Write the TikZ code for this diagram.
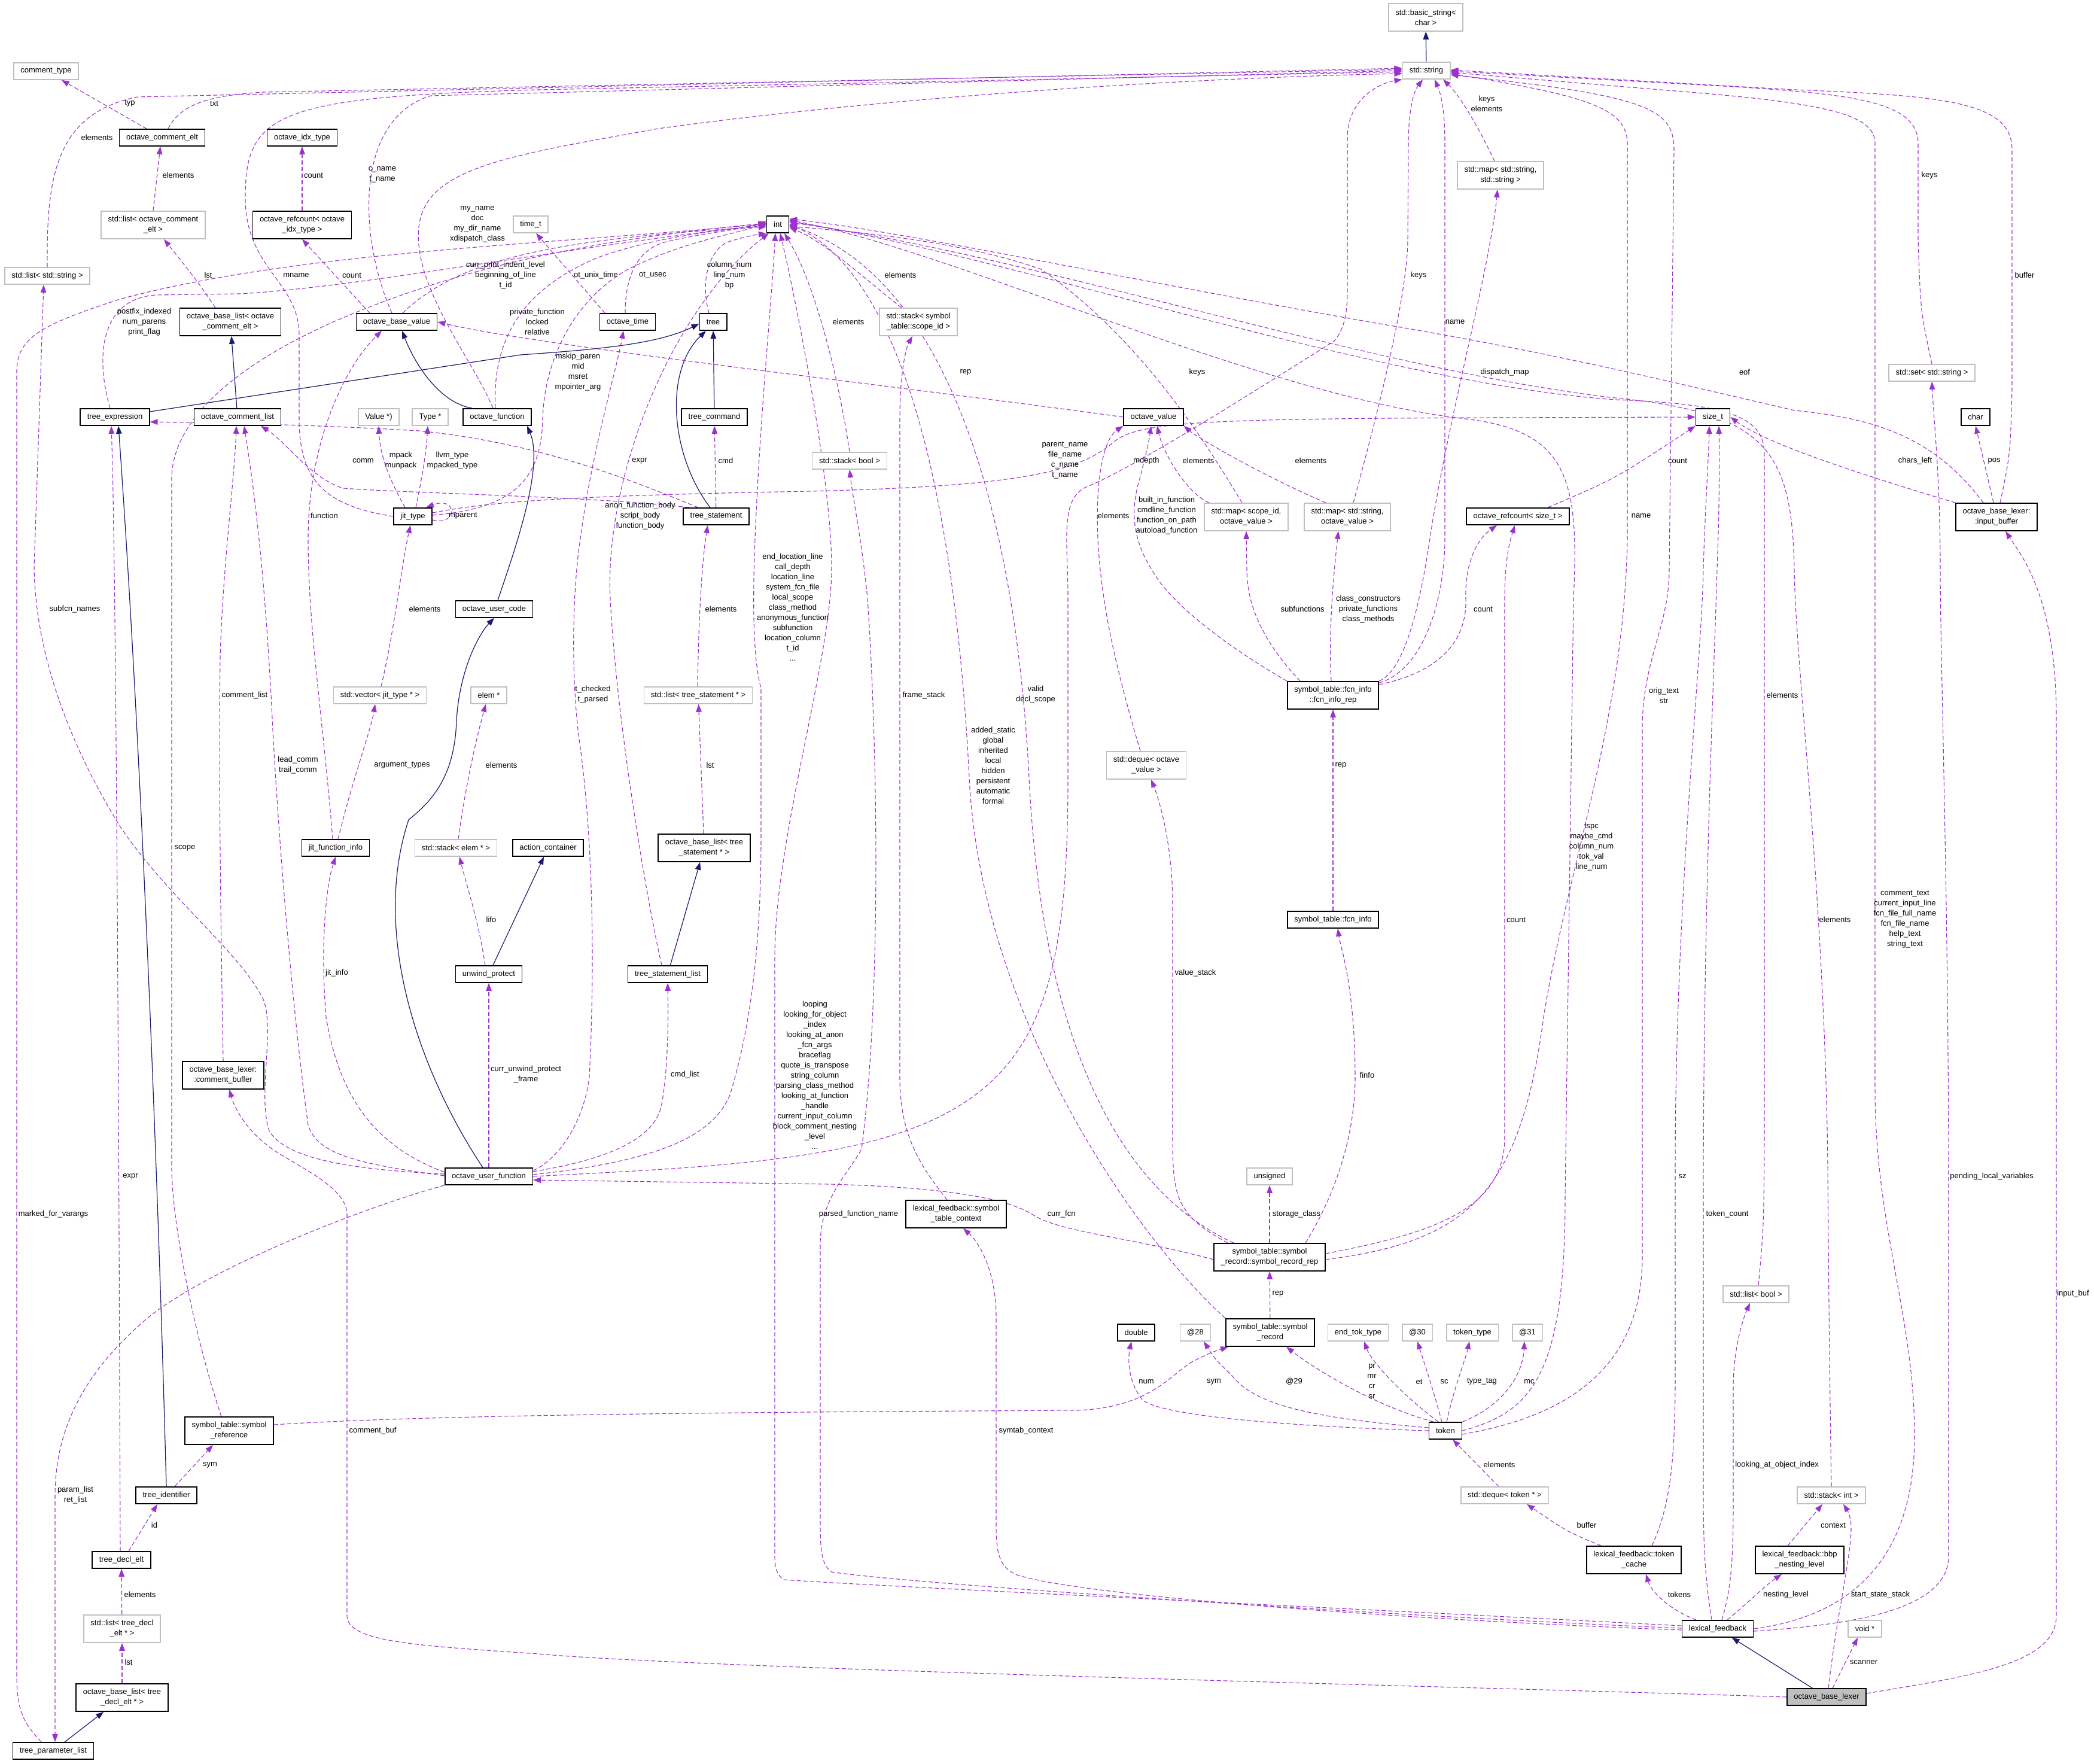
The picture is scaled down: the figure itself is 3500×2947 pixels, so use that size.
\documentclass[tikz,border=0pt]{standalone}
\usepackage{fontspec}
\setmainfont{Liberation Sans}
\usetikzlibrary{arrows.meta}
\definecolor{usecol}{HTML}{9A32CD}
\definecolor{inhcol}{HTML}{191970}
\definecolor{extcol}{HTML}{BFBFBF}
\pgfdeclarelayer{bg}
\pgfsetlayers{bg,main}

\begin{document}
\begin{tikzpicture}[
      x=1pt, y=-1pt,
      cls/.style={draw=black, line width=1.6pt, fill=white, align=center, font=\fontsize{13}{17}\selectfont, inner xsep=11.5pt, inner ysep=4pt, minimum height=28pt},
      ext/.style={cls, draw=extcol},
      root/.style={cls, fill=extcol},
      two/.style={minimum height=46pt},
      lbl/.style={align=center, font=\fontsize{13}{17}\selectfont, inner sep=0pt},
      memb/.style={draw=usecol, line width=1.1pt, dash pattern=on 7pt off 4pt, -{Triangle[length=13pt,width=9.5pt]}},
      inher/.style={draw=inhcol, line width=1.2pt, -{Triangle[length=13pt,width=9.5pt]}}
      ]
      \useasboundingbox (0,0) rectangle (3500,2947);

      % Nodes
      \node (ctype) [ext] at (77,119) {comment\_type};
      \node (bstr) [ext, two] at (2383,29) {std::basic\_string<\\char >};
      \node (str) [ext] at (2384,118) {std::string};
      \node (mapss) [ext, two] at (2508,293) {std::map< std::string,\\std::string >};
      \node (ocelt) [cls] at (271,230) {octave\_comment\_elt};
      \node (oidx) [cls] at (505,230) {octave\_idx\_type};
      \node (lce) [ext, two] at (256,376) {std::list< octave\_comment\\\_elt >};
      \node (orcidx) [cls, two] at (505,376) {octave\_refcount< octave\\\_idx\_type >};
      \node (timet) [ext] at (887,375) {time\_t};
      \node (intn) [cls] at (1300,375) {int};
      \node (lstr) [ext] at (79,461) {std::list< std::string >};
      \node (oblce) [cls, two] at (385,538) {octave\_base\_list< octave\\\_comment\_elt >};
      \node (obv) [cls] at (663,538) {octave\_base\_value};
      \node (otime) [cls] at (1049,538) {octave\_time};
      \node (tree) [cls] at (1192,538) {tree};
      \node (stksid) [ext, two] at (1535,538) {std::stack< symbol\\\_table::scope\_id >};
      \node (setstr) [ext] at (3229,623) {std::set< std::string >};
      \node (texpr) [cls] at (192,697) {tree\_expression};
      \node (ocl) [cls] at (397,697) {octave\_comment\_list};
      \node (valp) [ext] at (633,697) {Value *)};
      \node (typep) [ext] at (719,697) {Type *};
      \node (ofcn) [cls] at (831,697) {octave\_function};
      \node (tcmd) [cls] at (1194,697) {tree\_command};
      \node (oval) [cls] at (1928,697) {octave\_value};
      \node (sizet) [cls] at (2863,697) {size\_t};
      \node (chr) [cls] at (3302,697) {char};
      \node (stkb) [ext] at (1420,770) {std::stack< bool >};
      \node (jit) [cls] at (690,863) {jit\_type};
      \node (tstmt) [cls] at (1197,863) {tree\_statement};
      \node (mapsid) [ext, two] at (2083,864) {std::map< scope\_id,\\octave\_value >};
      \node (mapsov) [ext, two] at (2252,864) {std::map< std::string,\\octave\_value >};
      \node (orcsz) [cls] at (2537,863) {octave\_refcount< size\_t >};
      \node (inbuf) [cls, two] at (3337,864) {octave\_base\_lexer:\\:input\_buffer};
      \node (ouc) [cls] at (826,1018) {octave\_user\_code};
      \node (vecjt) [ext] at (635,1162) {std::vector< jit\_type * >};
      \node (elem) [ext] at (817,1162) {elem *};
      \node (lts) [ext] at (1167,1162) {std::list< tree\_statement * >};
      \node (fir) [cls, two] at (2228,1162) {symbol\_table::fcn\_info\\::fcn\_info\_rep};
      \node (dqov) [ext, two] at (1916,1279) {std::deque< octave\\\_value >};
      \node (jfi) [cls] at (561,1417) {jit\_function\_info};
      \node (stke) [ext] at (762,1417) {std::stack< elem * >};
      \node (actc) [cls] at (916,1417) {action\_container};
      \node (oblts) [cls, two] at (1177,1417) {octave\_base\_list< tree\\\_statement * >};
      \node (fi) [cls] at (2228,1537) {symbol\_table::fcn\_info};
      \node (unw) [cls] at (817,1628) {unwind\_protect};
      \node (tsl) [cls] at (1116,1628) {tree\_statement\_list};
      \node (cbuf) [cls, two] at (373,1797) {octave\_base\_lexer:\\:comment\_buffer};
      \node (ouf) [cls] at (817,1966) {octave\_user\_function};
      \node (unsig) [ext] at (2122,1966) {unsigned};
      \node (stc) [cls, two] at (1598,2029) {lexical\_feedback::symbol\\\_table\_context};
      \node (srr) [cls, two] at (2122,2101) {symbol\_table::symbol\\\_record::symbol\_record\_rep};
      \node (lbool) [ext] at (2935,2163) {std::list< bool >};
      \node (dbl) [cls] at (1899,2227) {double};
      \node (at28) [ext] at (1998,2227) {@28};
      \node (sr) [cls, two] at (2123,2227) {symbol\_table::symbol\\\_record};
      \node (endtok) [ext] at (2270,2227) {end\_tok\_type};
      \node (at30) [ext] at (2369,2227) {@30};
      \node (toktype) [ext] at (2461,2227) {token\_type};
      \node (at31) [ext] at (2553,2227) {@31};
      \node (symref) [cls, two] at (383,2391) {symbol\_table::symbol\\\_reference};
      \node (tok) [cls] at (2416,2391) {token};
      \node (tid) [cls] at (278,2499) {tree\_identifier};
      \node (dqtok) [ext] at (2515,2499) {std::deque< token * >};
      \node (stki) [ext] at (3061,2499) {std::stack< int >};
      \node (tdecl) [cls] at (203,2607) {tree\_decl\_elt};
      \node (tcache) [cls, two] at (2731,2607) {lexical\_feedback::token\\\_cache};
      \node (bbp) [cls, two] at (3008,2607) {lexical\_feedback::bbp\\\_nesting\_level};
      \node (ltd) [ext, two] at (204,2722) {std::list< tree\_decl\\\_elt * >};
      \node (lf) [cls] at (2871,2722) {lexical\_feedback};
      \node (voidp) [ext] at (3117,2722) {void *};
      \node (obltd) [cls, two] at (204,2837) {octave\_base\_list< tree\\\_decl\_elt * >};
      \node (obl) [root] at (3053,2836) {octave\_base\_lexer};
      \node (tpl) [cls] at (89,2926) {tree\_parameter\_list};

      % Labels
      \node (l_typ) [lbl] at (217,173) {typ};
      \node (l_txt) [lbl] at (358,173) {txt};
      \node (l_el1) [lbl] at (162,230) {elements};
      \node (l_el2) [lbl] at (298,293) {elements};
      \node (l_cnt1) [lbl] at (524,293) {count};
      \node (l_cname) [lbl] at (639,292) {c\_name\\t\_name};
      \node (l_myname) [lbl] at (798,375) {my\_name\\doc\\my\_dir\_name\\xdispatch\_class};
      \node (l_curprint) [lbl] at (845,460) {curr\_print\_indent\_level\\beginning\_of\_line\\t\_id};
      \node (l_lst1) [lbl] at (348,460) {lst};
      \node (l_mname) [lbl] at (495,460) {mname};
      \node (l_cnt2) [lbl] at (588,460) {count};
      \node (l_postfix) [lbl] at (241,538) {postfix\_indexed\\num\_parens\\print\_flag};
      \node (l_privfn) [lbl] at (898,538) {private\_function\\locked\\relative};
      \node (l_comm) [lbl] at (607,770) {comm};
      \node (l_mpack) [lbl] at (670,770) {mpack\\munpack};
      \node (l_llvm) [lbl] at (756,770) {llvm\_type\\mpacked\_type};
      \node (l_mparent) [lbl] at (774,862) {mparent};
      \node (l_function) [lbl] at (542,862) {function};
      \node (l_otunix) [lbl] at (996,460) {ot\_unix\_time};
      \node (l_otusec) [lbl] at (1091,460) {ot\_usec};
      \node (l_colnum) [lbl] at (1219,460) {column\_num\\line\_num\\bp};
      \node (l_el3) [lbl] at (1505,460) {elements};
      \node (l_el4) [lbl] at (1418,538) {elements};
      \node (l_mskip) [lbl] at (966,622) {mskip\_paren\\mid\\msret\\mpointer\_arg};
      \node (l_rep1) [lbl] at (1614,622) {rep};
      \node (l_expr1) [lbl] at (1069,770) {expr};
      \node (l_cmd) [lbl] at (1213,770) {cmd};
      \node (l_anon) [lbl] at (1070,862) {anon\_function\_body\\script\_body\\function\_body};
      \node (l_endloc) [lbl] at (1325,1015) {end\_location\_line\\call\_depth\\location\_line\\system\_fcn\_file\\local\_scope\\class\_method\\anonymous\_function\\subfunction\\location\_column\\t\_id\\...};
      \node (l_keysel) [lbl] at (2485,173) {keys\\elements};
      \node (l_keys1) [lbl] at (2371,460) {keys};
      \node (l_name1) [lbl] at (2432,538) {name};
      \node (l_keys2) [lbl] at (2001,622) {keys};
      \node (l_dispatch) [lbl] at (2515,622) {dispatch\_map};
      \node (l_parent) [lbl] at (1780,769) {parent\_name\\file\_name\\c\_name\\t\_name};
      \node (l_mdepth) [lbl] at (1916,770) {mdepth};
      \node (l_el5) [lbl] at (2003,770) {elements};
      \node (l_el6) [lbl] at (2191,770) {elements};
      \node (l_el7) [lbl] at (1861,862) {elements};
      \node (l_builtin) [lbl] at (1950,862) {built\_in\_function\\cmdline\_function\\function\_on\_path\\autoload\_function};
      \node (l_keys3) [lbl] at (3225,293) {keys};
      \node (l_buffer1) [lbl] at (3384,460) {buffer};
      \node (l_eof) [lbl] at (2916,622) {eof};
      \node (l_cnt3) [lbl] at (2804,770) {count};
      \node (l_charsleft) [lbl] at (3201,770) {chars\_left};
      \node (l_pos) [lbl] at (3333,770) {pos};
      \node (l_name2) [lbl] at (2743,862) {name};
      \node (l_subfcn) [lbl] at (125,1018) {subfcn\_names};
      \node (l_el8) [lbl] at (710,1018) {elements};
      \node (l_commentlist) [lbl] at (409,1162) {comment\_list};
      \node (l_leadcomm) [lbl] at (498,1279) {lead\_comm\\trail\_comm};
      \node (l_argtypes) [lbl] at (672,1279) {argument\_types};
      \node (l_el9) [lbl] at (838,1279) {elements};
      \node (l_scope) [lbl] at (309,1417) {scope};
      \node (l_lifo) [lbl] at (821,1537) {lifo};
      \node (l_jitinfo) [lbl] at (563,1626) {jit\_info};
      \node (l_currunw) [lbl] at (879,1796) {curr\_unwind\_protect\\\_frame};
      \node (l_expr2) [lbl] at (218,1966) {expr};
      \node (l_el10) [lbl] at (1205,1018) {elements};
      \node (l_tchecked) [lbl] at (991,1161) {t\_checked\\t\_parsed};
      \node (l_framestack) [lbl] at (1544,1162) {frame\_stack};
      \node (l_valid) [lbl] at (1731,1161) {valid\\decl\_scope};
      \node (l_added) [lbl] at (1660,1279) {added\_static\\global\\inherited\\local\\hidden\\persistent\\automatic\\formal};
      \node (l_lst2) [lbl] at (1187,1279) {lst};
      \node (l_cmdlist) [lbl] at (1145,1796) {cmd\_list};
      \node (l_looping) [lbl] at (1362,1797) {looping\\looking\_for\_object\\\_index\\looking\_at\_anon\\\_fcn\_args\\braceflag\\quote\_is\_transpose\\string\_column\\parsing\_class\_method\\looking\_at\_function\\\_handle\\current\_input\_column\\block\_comment\_nesting\\\_level\\...};
      \node (l_subfns) [lbl] at (2177,1018) {subfunctions};
      \node (l_classctor) [lbl] at (2287,1018) {class\_constructors\\private\_functions\\class\_methods};
      \node (l_cnt4) [lbl] at (2479,1018) {count};
      \node (l_rep2) [lbl] at (2241,1279) {rep};
      \node (l_cnt5) [lbl] at (2534,1537) {count};
      \node (l_valuestack) [lbl] at (1998,1626) {value\_stack};
      \node (l_finfo) [lbl] at (2285,1797) {finfo};
      \node (l_origtext) [lbl] at (2781,1162) {orig\_text\\str};
      \node (l_el11) [lbl] at (2979,1162) {elements};
      \node (l_tspc) [lbl] at (2660,1416) {tspc\\maybe\_cmd\\column\_num\\tok\_val\\line\_num};
      \node (l_el12) [lbl] at (3067,1537) {elements};
      \node (l_commenttext) [lbl] at (3184,1536) {comment\_text\\current\_input\_line\\fcn\_file\_full\_name\\fcn\_file\_name\\help\_text\\string\_text};
      \node (l_sz) [lbl] at (2812,1966) {sz};
      \node (l_pending) [lbl] at (3329,1966) {pending\_local\_variables};
      \node (l_marked) [lbl] at (89,2029) {marked\_for\_varargs};
      \node (l_commentbuf) [lbl] at (623,2391) {comment\_buf};
      \node (l_sym1) [lbl] at (351,2448) {sym};
      \node (l_paramlist) [lbl] at (126,2499) {param\_list\\ret\_list};
      \node (l_id) [lbl] at (258,2549) {id};
      \node (l_el13) [lbl] at (234,2665) {elements};
      \node (l_lst3) [lbl] at (215,2778) {lst};
      \node (l_parsedfn) [lbl] at (1435,2029) {parsed\_function\_name};
      \node (l_currfcn) [lbl] at (1774,2029) {curr\_fcn};
      \node (l_symtab) [lbl] at (1715,2391) {symtab\_context};
      \node (l_storage) [lbl] at (2167,2029) {storage\_class};
      \node (l_rep3) [lbl] at (2136,2162) {rep};
      \node (l_num) [lbl] at (1916,2309) {num};
      \node (l_sym2) [lbl] at (2029,2309) {sym};
      \node (l_at29) [lbl] at (2163,2309) {@29};
      \node (l_prmr) [lbl] at (2293,2309) {pr\\mr\\cr\\sr};
      \node (l_et) [lbl] at (2372,2309) {et};
      \node (l_sc) [lbl] at (2414,2309) {sc};
      \node (l_typetag) [lbl] at (2477,2309) {type\_tag};
      \node (l_mc) [lbl] at (2556,2309) {mc};
      \node (l_el14) [lbl] at (2506,2448) {elements};
      \node (l_tokencount) [lbl] at (2887,2029) {token\_count};
      \node (l_inputbuf) [lbl] at (3465,2162) {input\_buf};
      \node (l_lookobj) [lbl] at (2970,2448) {looking\_at\_object\_index};
      \node (l_buffer2) [lbl] at (2652,2549) {buffer};
      \node (l_context) [lbl] at (3064,2549) {context};
      \node (l_tokens) [lbl] at (2807,2665) {tokens};
      \node (l_nesting) [lbl] at (2985,2665) {nesting\_level};
      \node (l_startstate) [lbl] at (3143,2665) {start\_state\_stack};
      \node (l_scanner) [lbl] at (3115,2778) {scanner};

      \begin{pgfonlayer}{bg}
      \fill[white] (0,0) rectangle (3500,2947);

      % Inheritance
      \draw[inher] (str) -- (bstr);
      \draw[inher] (ocl) -- (oblce);
      \draw[inher] ([xshift=-42pt]ofcn.north) .. controls (730,672) and (690,600) .. ([xshift=9pt]obv.south);
      \draw[inher] ([yshift=9pt]texpr.east) -- (870,593) .. controls (1000,584) and (1100,575) .. ([yshift=-3pt]tree.west);
      \draw[inher] (tcmd) -- (tree);
      \draw[inher] ([xshift=-10pt]tstmt.north) .. controls (1120,760) and (1110,620) .. ([xshift=-12pt]tree.south);
      \draw[inher] ([xshift=6pt]ouc.north) .. controls (860,920) and (910,780) .. ([xshift=50pt]ofcn.south);
      \draw[inher] ([xshift=-10pt]ouf.north) .. controls (700,1790) and (620,1560) .. (683,1370) .. controls (720,1340) and (760,1300) .. (763,1204) .. controls (768,1120) and (800,1060) .. (ouc.south);
      \draw[inher] (unw) -- (actc);
      \draw[inher] (tsl) -- (oblts);
      \draw[inher] (tid.north) .. controls (268,2100) and (240,1300) .. ([xshift=6pt]texpr.south);
      \draw[inher] (tpl) -- (obltd);
      \draw[inher] (obl) -- (lf);

      % Members, upper left
      \draw[memb] (ocelt) -- (ctype);
      \draw[memb] ([xshift=10pt]ocelt.north) .. controls (300,178) and (340,160) .. (440,154) -- ([yshift=2pt]str.west);
      \draw[memb] (lstr.north) .. controls (78,300) and (90,190) .. (230,162) -- ([yshift=4pt]str.west);
      \draw[memb] ([xshift=-8pt]obv.north) .. controls (600,400) and (590,200) .. (720,160) -- (str.west);
      \draw[memb] (jit.west) .. controls (540,845) and (500,800) .. (500,700) -- (500,560) .. controls (500,470) and (410,450) .. (410,330) .. controls (410,190) and (460,162) .. (900,150) -- ([yshift=-2pt]str.west);
      \draw[memb] ([xshift=-7pt]ofcn.north) .. controls (790,600) and (690,480) .. (700,380) .. controls (710,280) and (850,260) .. (1100,215) .. controls (1500,160) and (2000,130) .. ([yshift=-5pt]str.west);
      \draw[memb] (lce.north) -- ([xshift=-3pt]ocelt.south);
      \draw[memb] (orcidx) -- (oidx);
      \draw[memb] ([xshift=-25pt]oblce.north) .. controls (330,470) .. ([xshift=18pt]lce.south);
      \draw[memb] ([xshift=-45pt]obv.north) .. controls (560,460) .. (orcidx.south);

      % Members into int
      \draw[memb] ([xshift=10pt]obv.north) .. controls (760,440) and (900,400) .. ([yshift=-4pt]intn.west);
      \draw[memb] ([xshift=-3pt]ofcn.north) .. controls (822,560) and (880,480) .. (1000,430) .. controls (1100,395) and (1200,385) .. ([yshift=-2pt]intn.west);
      \draw[memb] ([xshift=-8pt]texpr.north) .. controls (160,600) and (165,500) .. (260,493) -- (400,491) .. controls (600,480) and (900,420) .. (intn.west);
      \draw[memb] ([xshift=-20pt]tpl.north) .. controls (40,2880) and (28,2860) .. (28,2800) -- (28,620) .. controls (28,560) and (80,540) .. (200,500) .. controls (500,420) and (900,410) .. ([yshift=1pt]intn.west);
      \draw[memb] ([xshift=-13pt]symref.north) .. controls (330,2250) and (287,2050) .. (287,1950) -- (287,800) .. controls (287,700) and (400,600) .. (600,520) .. controls (800,440) and (1000,400) .. ([yshift=2pt]intn.west);
      \draw[memb] ([yshift=2pt]jit.east) .. controls (860,850) and (905,800) .. (907,700) .. controls (910,600) and (960,500) .. (1050,450) .. controls (1150,400) and (1230,392) .. ([yshift=3pt]intn.west);
      \draw[memb] ([xshift=-38pt]otime.north) -- ([xshift=9pt]timet.south);
      \draw[memb] ([xshift=-4pt]otime.north) .. controls (1045,470) and (1060,420) .. (1110,405) .. controls (1180,388) and (1240,384) .. ([yshift=5pt]intn.west);
      \draw[memb] ([xshift=-7pt]tree.north) .. controls (1170,470) and (1185,420) .. (1215,405) .. controls (1245,395) and (1265,392) .. (intn.south west);
      \draw[memb] ([xshift=-10pt]tsl.north) .. controls (1080,1500) and (1030,1200) .. (1020,1000) .. controls (1010,800) and (1120,520) .. ([xshift=4pt]intn.south west);
      \draw[memb] ([yshift=3pt]ouf.east) .. controls (1100,1940) and (1190,1900) .. (1220,1830) .. controls (1260,1700) and (1272,1550) .. (1272,1400) -- (1272,1150) .. controls (1258,1100) and (1258,1000) .. (1262,900) .. controls (1270,700) and (1290,500) .. ([xshift=-4pt]intn.south);
      \draw[memb] ([yshift=5pt]lf.west) .. controls (2300,2690) and (1450,2650) .. (1310,2640) .. controls (1298,2632) and (1295,2620) .. (1295,2600) -- (1295,1600) .. controls (1295,1400) and (1390,1100) .. (1390,950) .. controls (1390,800) and (1330,500) .. ([xshift=4pt]intn.south);
      \draw[memb] ([xshift=-28pt]stksid.north) .. controls (1450,470) and (1380,405) .. ([yshift=-5pt]intn.east);
      \draw[memb] (stkb.north) .. controls (1400,620) and (1360,470) .. ([xshift=11pt]intn.south);
      \draw[memb] ([xshift=-7pt]mapsid.north) .. controls (2010,730) and (1900,560) .. (1740,450) .. controls (1600,400) and (1400,385) .. ([yshift=-3pt]intn.east);
      \draw[memb] ([xshift=-60pt]srr.north) .. controls (1850,1980) and (1740,1700) .. (1720,1300) .. controls (1700,900) and (1600,470) .. ([yshift=-1pt]intn.east);
      \draw[memb] (sr.north west) .. controls (1900,2070) and (1640,1700) .. (1620,1300) .. controls (1605,1000) and (1550,480) .. ([yshift=1pt]intn.east);
      \draw[memb] (stki.north) .. controls (3058,2300) and (3056,2100) .. (3055,1950) .. controls (3050,1500) and (3000,1100) .. (2999,950) .. controls (2995,750) and (2950,690) .. (2700,665) .. controls (2300,620) and (1700,420) .. ([yshift=3pt]intn.east);
      \draw[memb] ([xshift=4pt]lbool.north) .. controls (2948,2050) .. (2949,1900) -- (2949,760) .. controls (2949,700) and (2900,675) .. (2700,668) .. controls (2300,640) and (1700,430) .. ([yshift=5pt]intn.east);
      \draw[memb] (tok.east) .. controls (2560,2360) and (2616,2300) .. (2616,2000) -- (2630,1000) .. controls (2640,800) and (2620,720) .. (2450,700) .. controls (2100,660) and (1600,420) .. ([yshift=7pt]intn.east);
      \draw[memb] ([xshift=-22pt]inbuf.north) .. controls (3240,740) and (3150,700) .. (3000,686) .. controls (2800,640) and (2600,590) .. (2300,540) .. controls (1900,470) and (1500,385) .. ([yshift=9pt]intn.east);

      % Members into std::string
      \draw[memb] (setstr.north) .. controls (3210,520) .. (3206,400) -- (3206,240) .. controls (3206,170) and (3100,158) .. (2900,145) -- ([yshift=-1pt]str.east);
      \draw[memb] (lf.east) .. controls (3100,2700) and (3200,2600) .. (3200,2400) .. controls (3200,2200) and (3134,2050) .. (3134,1820) -- (3134,240) .. controls (3134,190) and (3050,172) .. (2800,152) -- ([yshift=-3pt]str.east);
      \draw[memb] ([xshift=6pt]inbuf.north) .. controls (3360,760) .. (3363,650) -- (3363,250) .. controls (3363,170) and (3250,160) .. (3000,150) -- ([yshift=1pt]str.east);
      \draw[memb] ([yshift=-4pt]srr.east) .. controls (2450,2075) and (2540,2000) .. (2580,1700) .. controls (2620,1450) and (2715,1200) .. (2720,900) -- (2720,240) .. controls (2720,180) and (2650,160) .. ([yshift=-5pt]str.east);
      \draw[memb] ([yshift=-6pt]tok.east) .. controls (2600,2370) and (2745,2300) .. (2745,2100) -- (2745,1220) .. controls (2745,1100) and (2790,1050) .. (2790,950) -- (2798,250) .. controls (2798,180) and (2750,160) .. ([yshift=-7pt]str.east);
      \draw[memb] ([yshift=-3pt]fir.north east) .. controls (2380,1120) and (2415,1000) .. (2415,900) -- (2415,240) .. controls (2415,170) and (2405,150) .. ([xshift=14pt]str.south);
      \draw[memb] ([xshift=10pt]mapsov.north) .. controls (2300,700) and (2352,500) .. (2353,400) -- (2354,230) .. controls (2356,170) and (2365,150) .. ([xshift=-6pt]str.south);
      \draw[memb] ([xshift=-10pt]mapss.north) .. controls (2470,210) and (2440,160) .. ([xshift=28pt]str.south);
      \draw[memb] (ouf.east) .. controls (1200,1950) and (1450,1940) .. (1600,1850) .. controls (1750,1760) and (1785,1600) .. (1785,1300) -- (1785,1000) .. controls (1785,900) and (1770,830) .. (1820,812) .. controls (1900,780) and (2150,620) .. (2230,570) .. controls (2255,540) and (2252,500) .. (2252,450) -- (2252,230) .. controls (2252,170) and (2300,140) .. (str.south west);

      % Members into octave_value and size_t
      \draw[memb] (oval.west) .. controls (1500,645) and (900,578) .. (obv.east);
      \draw[memb] (fir.north west) .. controls (2050,1080) and (1960,1010) .. (1930,960) .. controls (1890,900) and (1890,850) .. (1905,800) .. controls (1915,760) and (1920,740) .. ([xshift=-4pt]oval.south);
      \draw[memb] ([xshift=-10pt]dqov.north) .. controls (1860,1100) and (1840,1000) .. (1835,900) .. controls (1830,780) and (1850,730) .. (oval.south west);
      \draw[memb] ([xshift=-62pt]mapsid.north) .. controls (1985,825) and (1945,760) .. ([xshift=6pt]oval.south);
      \draw[memb] ([xshift=-36pt]mapsov.north) .. controls (2100,790) and (2000,730) .. (oval.south east);
      \draw[memb] ([yshift=6pt]jit.east) .. controls (800,842) and (900,830) .. (1300,822) .. controls (1700,815) and (1800,790) .. (1860,740) .. controls (1900,705) and (2000,700) .. (2500,698) -- (sizet.west);
      \draw[memb] ([xshift=50pt]orcsz.north) .. controls (2700,800) .. (sizet.south west);
      \draw[memb] ([xshift=30pt]tcache.north) .. controls (2790,2520) and (2800,2450) .. (2800,2300) -- (2800,1950) .. controls (2800,1500) and (2845,1100) .. (2847,950) .. controls (2850,850) and (2856,760) .. ([xshift=-6pt]sizet.south);
      \draw[memb] ([xshift=-10pt]lf.north) .. controls (2852,2650) and (2847,2600) .. (2847,2500) -- (2847,2000) .. controls (2847,1500) and (2866,1100) .. (2870,950) .. controls (2874,850) and (2874,760) .. ([xshift=10pt]sizet.south);
      \draw[memb] (inbuf.north west) .. controls (3100,790) and (2950,740) .. (sizet.east);
      \draw[memb] ([xshift=-5pt]inbuf.north) -- (chr.south);

      % Members of the symbol table
      \draw[memb] (fi) -- (fir);
      \draw[memb] ([xshift=-55pt]fir.north) .. controls (2100,1060) and (2084,1000) .. (2084,950) -- (mapsid.south);
      \draw[memb] ([xshift=-3pt]fir.north) .. controls (2220,1050) and (2230,950) .. ([xshift=-15pt]mapsov.south);
      \draw[memb] (fir.north east) .. controls (2350,1120) and (2375,1000) .. (2390,900) .. controls (2420,700) and (2490,450) .. ([xshift=-5pt]mapss.south);
      \draw[memb] ([yshift=-6pt]fir.north east) .. controls (2420,1120) and (2452,1060) .. (2450,1000) .. controls (2448,940) and (2470,900) .. ([xshift=-35pt]orcsz.south);
      \draw[memb] ([xshift=60pt]srr.north) .. controls (2230,2000) and (2265,1900) .. (2265,1800) .. controls (2265,1650) and (2240,1580) .. ([xshift=8pt]fi.south);
      \draw[memb] ([xshift=-70pt]srr.north) .. controls (1965,2030) and (1960,2000) .. (1960,1900) -- (1960,1500) .. controls (1958,1400) and (1935,1330) .. ([xshift=8pt]dqov.south);
      \draw[memb] (srr) -- (unsig);
      \draw[memb] ([yshift=6pt]srr.east) .. controls (2400,2060) and (2515,2020) .. (2515,1900) -- (2515,1000) .. controls (2515,930) and (2525,900) .. ([xshift=-5pt]orcsz.south);
      \draw[memb] ([yshift=-4pt]srr.west) .. controls (1900,2070) and (1780,2060) .. (1731,2033) .. controls (1690,2005) and (1600,1985) .. (1387,1979) -- ([yshift=-6pt]ouf.east);
      \draw[memb] (sr) -- (srr);
      \draw[memb] ([yshift=10pt]symref.east) .. controls (700,2365) and (1200,2360) .. (1800,2357) .. controls (1930,2352) and (1960,2290) .. (2000,2272) .. controls (2025,2260) .. ([xshift=-70pt]sr.south);

      % Members of token
      \draw[memb] (tok.west) .. controls (2200,2385) and (1950,2370) .. (1910,2340) .. controls (1885,2310) and (1885,2270) .. ([xshift=-8pt]dbl.south);
      \draw[memb] ([yshift=5pt]tok.west) .. controls (2200,2370) and (2100,2350) .. (2060,2300) .. controls (2030,2270) .. ([xshift=14pt]at28.south);
      \draw[memb] ([xshift=-20pt]tok.north) .. controls (2300,2350) and (2200,2290) .. ([xshift=27pt]sr.south);
      \draw[memb] ([xshift=-12pt]tok.north) .. controls (2330,2320) and (2290,2270) .. ([xshift=10pt]endtok.south);
      \draw[memb] ([xshift=-6pt]tok.north) .. controls (2395,2320) and (2378,2270) .. (at30.south);
      \draw[memb] ([xshift=2pt]tok.north) .. controls (2430,2320) and (2450,2270) .. ([xshift=-5pt]toktype.south);
      \draw[memb] (tok.north east) .. controls (2510,2350) and (2545,2300) .. ([xshift=-5pt]at31.south);
      \draw[memb] ([xshift=-10pt]dqtok.north) -- ([xshift=12pt]tok.south);

      % Members of the parse tree side
      \draw[memb] ([xshift=14pt]tid.north) -- ([xshift=-27pt]symref.south);
      \draw[memb] ([xshift=12pt]tdecl.north) -- ([xshift=-15pt]tid.south);
      \draw[memb] ([xshift=-2pt]tdecl.north) .. controls (200,2300) and (196,1000) .. ([xshift=-6pt]texpr.south);
      \draw[memb] (ltd) -- (tdecl);
      \draw[memb] (obltd) -- (ltd);
      \draw[memb] (ouf.south west) .. controls (600,2020) and (350,2120) .. (250,2200) .. controls (130,2300) and (92,2400) .. (92,2500) -- ([xshift=3pt]tpl.north);
      \draw[memb] ([yshift=4pt]ouf.west) .. controls (600,1955) and (480,1940) .. (450,1890) .. controls (430,1830) and (460,1720) .. (440,1670) .. controls (400,1590) and (280,1500) .. (200,1380) .. controls (120,1250) and (60,1100) .. (57,950) -- ([xshift=-6pt]lstr.south);
      \draw[memb] ([yshift=1pt]ouf.west) .. controls (600,1945) and (530,1930) .. (515,1880) .. controls (490,1700) and (465,1400) .. (455,1200) .. controls (445,1000) and (430,850) .. ([xshift=11pt]ocl.south);
      \draw[memb] (cbuf.north) .. controls (370,1600) and (365,1300) .. (368,1100) .. controls (372,950) and (392,800) .. ([xshift=-2pt]ocl.south);
      \draw[memb] ([xshift=-45pt]tstmt.north) .. controls (1000,830) and (700,825) .. (574,816) .. controls (520,800) and (480,740) .. ([xshift=39pt]ocl.south);
      \draw[memb] ([xshift=-30pt]tstmt.north) .. controls (1050,800) and (900,740) .. (700,720) .. controls (500,708) and (300,706) .. ([yshift=-8pt]texpr.east);
      \draw[memb] (tstmt) -- (tcmd);
      \draw[memb] ([xshift=-1pt]lts.north) .. controls (1168,1000) and (1176,920) .. ([xshift=-14pt]tstmt.south);
      \draw[memb] (oblts) -- (lts);
      \draw[memb] ([xshift=-5pt]jfi.north) .. controls (540,1200) and (515,1050) .. (515,900) .. controls (515,750) and (570,620) .. ([xshift=-25pt]obv.south);
      \draw[memb] ([xshift=4pt]jfi.north) .. controls (590,1300) and (620,1220) .. ([xshift=-8pt]vecjt.south);
      \draw[memb] ([xshift=2pt]vecjt.north) .. controls (660,1050) and (670,950) .. ([xshift=-4pt]jit.south);
      \draw[memb] ([xshift=-13pt]jit.north) .. controls (650,800) and (635,760) .. (valp.south);
      \draw[memb] ([xshift=5pt]jit.north) .. controls (705,800) and (712,760) .. ([xshift=-4pt]typep.south);
      \draw[memb] ([yshift=-6pt]jit.east) .. controls (765,880) and (765,828) .. ([xshift=22pt]jit.north);
      \draw[memb] ([xshift=4pt]stke.north) .. controls (780,1300) and (800,1220) .. ([xshift=-5pt]elem.south);
      \draw[memb] ([xshift=-6pt]unw.north) .. controls (800,1540) and (780,1480) .. ([xshift=6pt]stke.south);
      \draw[memb] ([yshift=7pt]ouf.west) .. controls (640,1920) and (570,1850) .. (545,1700) .. controls (535,1580) and (545,1480) .. (jfi.south);
      \draw[memb] (ouf.north) -- (unw.south);
      \draw[memb] ([yshift=8pt]ouf.east) .. controls (1000,1940) and (1090,1910) .. (1105,1850) .. controls (1117,1790) and (1117,1700) .. (tsl.south);
      \draw[memb] ([yshift=10pt]ouf.east) .. controls (930,1940) and (975,1880) .. (985,1800) .. controls (995,1600) and (990,1400) .. (970,1250) .. controls (955,1150) and (955,1000) .. (970,900) .. controls (990,750) and (1030,620) .. ([xshift=-7pt]otime.south);
      \draw[memb] (obl.west) .. controls (2500,2820) and (1200,2790) .. (900,2764) .. controls (700,2750) and (580,2745) .. (580,2700) -- (580,2030) .. controls (580,1990) and (520,1960) .. (470,1930) .. controls (420,1900) and (395,1860) .. ([xshift=10pt]cbuf.south);

      % Members of the lexer
      \draw[memb] ([yshift=-2pt]lf.west) .. controls (2300,2705) and (1800,2665) .. (1700,2632) .. controls (1672,2620) and (1665,2600) .. (1665,2550) -- (1665,2200) .. controls (1665,2130) and (1640,2080) .. ([xshift=12pt]stc.south);
      \draw[memb] ([xshift=-15pt]stc.north) .. controls (1540,1950) and (1504,1900) .. (1504,1800) -- (1504,700) .. controls (1504,620) and (1515,580) .. ([xshift=-10pt]stksid.south);
      \draw[memb] ([yshift=1pt]lf.west) .. controls (2300,2700) and (1500,2645) .. (1390,2627) .. controls (1376,2617) and (1371,2600) .. (1371,2550) -- (1371,2080) .. controls (1371,2000) and (1420,1960) .. (1440,1920) .. controls (1470,1700) and (1470,1300) .. (1450,1000) .. controls (1440,900) and (1425,830) .. (stkb.south);
      \draw[memb] ([xshift=-36pt]lf.north) .. controls (2790,2690) and (2760,2660) .. ([xshift=20pt]tcache.south);
      \draw[memb] ([xshift=16pt]lf.north) .. controls (2920,2680) and (2950,2650) .. ([xshift=-30pt]bbp.south);
      \draw[memb] ([xshift=7pt]lf.north) .. controls (2895,2650) and (2897,2600) .. (2897,2500) -- (2897,2320) .. controls (2897,2250) and (2915,2200) .. ([xshift=-10pt]lbool.south);
      \draw[memb] ([yshift=-4pt]lf.east) .. controls (3100,2715) and (3257,2690) .. (3257,2600) -- (3257,2000) .. controls (3257,1500) and (3243,1100) .. (3243,950) .. controls (3243,800) and (3232,700) .. (setstr.south);
      \draw[memb] ([xshift=-55pt]tcache.north) .. controls (2620,2560) .. ([xshift=37pt]dqtok.south);
      \draw[memb] ([xshift=-20pt]bbp.north) -- ([xshift=-15pt]stki.south);
      \draw[memb] ([xshift=3pt]obl.north) .. controls (3070,2700) and (3094,2600) .. (3094,2554) .. controls (3094,2530) and (3085,2520) .. ([xshift=20pt]stki.south);
      \draw[memb] ([xshift=10pt]obl.north) -- ([xshift=-12pt]voidp.south);
      \draw[memb] ([yshift=6pt]obl.east) .. controls (3300,2800) and (3437,2780) .. (3437,2700) -- (3437,1200) .. controls (3437,1000) and (3380,930) .. ([xshift=15pt]inbuf.south);
      \end{pgfonlayer}

    \end{tikzpicture}
\end{document}
